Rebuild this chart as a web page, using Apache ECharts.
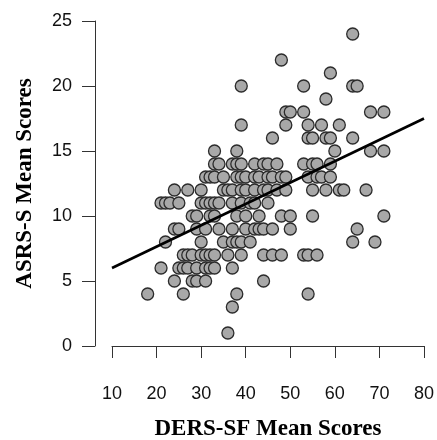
<!DOCTYPE html>
<html>
<head>
<meta charset="utf-8">
<script src="https://cdn.jsdelivr.net/npm/echarts@6/dist/echarts.min.js"></script>
<style>
  html, body { margin: 0; padding: 0; background: #fff; }
  #chart { width: 437px; height: 440px; }
</style>
</head>
<body>
<div id="chart"></div>
<script>
// ASRS-S score levels, and the DERS-SF scores of the points sitting on each level
const asrsLevels = [24, 22, 21, 20, 19, 18, 17, 16, 15, 14, 13, 12, 11, 10, 9, 8, 7, 6, 5, 4, 3, 1];
const dersByLevel = [
  [64],
  [48],
  [59],
  [39, 53, 64, 65],
  [58],
  [49, 50, 53, 68, 71],
  [39, 49, 54, 57, 61],
  [46, 54, 55, 58, 59, 64],
  [33, 38, 60, 68, 71],
  [33, 34, 37, 38, 39, 42, 44, 45, 47, 53, 55, 56, 59],
  [31, 32, 33, 35, 38, 39, 40, 42, 43, 45, 46, 48, 49, 54, 56, 57, 59],
  [24, 27, 30, 35, 36, 37, 39, 40, 42, 44, 45, 47, 49, 55, 58, 61, 62, 67],
  [21, 22, 23, 25, 30, 31, 32, 33, 34, 37, 39, 41, 42, 45],
  [28, 29, 32, 33, 38, 40, 43, 48, 50, 55, 71],
  [24, 25, 29, 31, 34, 37, 40, 42, 43, 44, 46, 50, 65],
  [22, 30, 35, 37, 38, 39, 41, 64, 69],
  [26, 27, 28, 30, 31, 32, 33, 36, 39, 44, 46, 48, 53, 54, 56],
  [21, 25, 26, 27, 29, 31, 32, 33, 37],
  [24, 28, 29, 31, 44],
  [18, 26, 38, 54],
  [37],
  [36]
];

// fitted line ends
const fitX = [10, 80];
const fitY = [6.0, 17.5];

const points = [];
asrsLevels.forEach((y, i) => {
  dersByLevel[i].forEach(x => points.push([x, y]));
});

const chart = echarts.init(document.getElementById('chart'));

const tickFont = {
  fontFamily: 'Liberation Sans',
  fontSize: 18,
  color: '#111'
};
const titleFont = {
  fontFamily: 'Liberation Serif',
  fontWeight: 'bold',
  fontSize: 23,
  color: '#000'
};

chart.setOption({
  animation: false,
  backgroundColor: '#fff',
  grid: { left: 112, right: 13, top: 21, bottom: 94, containLabel: false, outerBoundsMode: 'none' },
  xAxis: {
    type: 'value',
    min: 10,
    max: 80,
    interval: 10,
    offset: 17,
    name: 'DERS-SF Mean Scores',
    nameLocation: 'middle',
    nameGap: 55,
    nameTextStyle: titleFont,
    axisLine: { show: true, lineStyle: { color: '#333', width: 1 } },
    axisTick: { show: true, length: 12, lineStyle: { color: '#333' } },
    axisLabel: Object.assign({ margin: 22 }, tickFont),
    splitLine: { show: false }
  },
  yAxis: {
    type: 'value',
    min: 0,
    max: 25,
    interval: 5,
    offset: 17,
    name: 'ASRS-S Mean Scores',
    nameLocation: 'middle',
    nameGap: 58,
    nameRotate: 90,
    nameTextStyle: titleFont,
    axisLine: { show: true, lineStyle: { color: '#333', width: 1 } },
    axisTick: { show: true, length: 13, lineStyle: { color: '#333' } },
    axisLabel: Object.assign({ margin: 23 }, tickFont),
    splitLine: { show: false }
  },
  series: [
    {
      type: 'scatter',
      data: points,
      symbol: 'circle',
      symbolSize: 12,
      itemStyle: { color: '#a8a8a8', borderColor: '#2b2b2b', borderWidth: 1.3, opacity: 1 },
      z: 2
    },
    {
      type: 'line',
      data: fitX.map((x, i) => [x, fitY[i]]),
      symbol: 'none',
      lineStyle: { color: '#000', width: 2.6 },
      z: 3
    }
  ]
});
</script>
</body>
</html>
